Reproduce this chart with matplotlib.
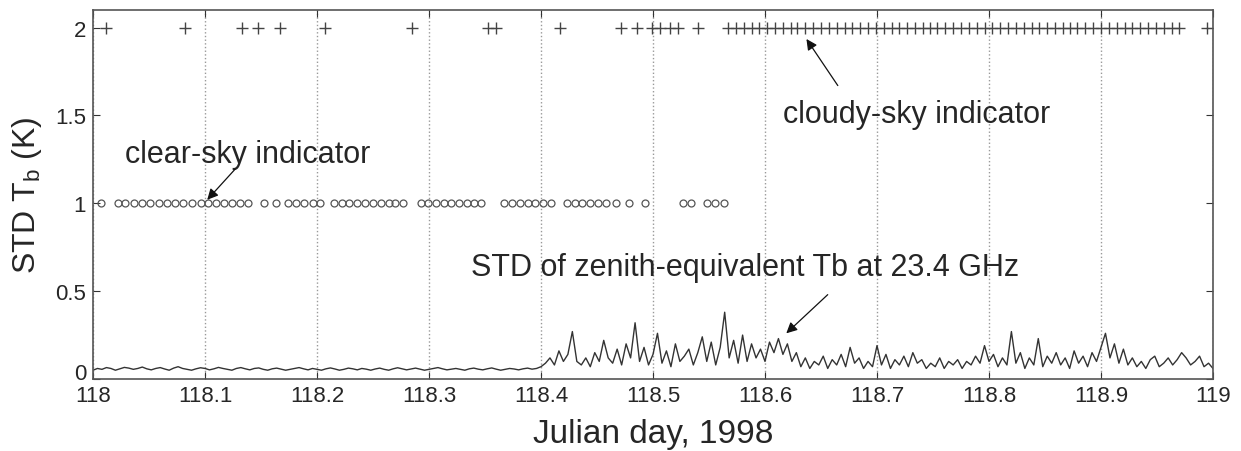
import numpy as np
import matplotlib
matplotlib.use("Agg")
import matplotlib.pyplot as plt
import matplotlib.transforms as mtransforms

# ---------------- data ----------------
# clear-sky indicator times (Julian day, 1998), plotted at level 1
clear_days = [118.007,
              118.022, 118.029, 118.037, 118.044, 118.051, 118.059, 118.066, 118.073, 118.080,
              118.088, 118.096, 118.103, 118.110, 118.117, 118.124, 118.131,
              118.138, 118.153, 118.163,
              118.174, 118.181, 118.188, 118.196, 118.203,
              118.215, 118.222, 118.229, 118.236, 118.243, 118.250, 118.257, 118.264, 118.270, 118.277,
              118.293, 118.299, 118.306, 118.313, 118.320, 118.327, 118.334, 118.340, 118.346,
              118.367, 118.374, 118.381, 118.388, 118.395, 118.402, 118.409,
              118.423, 118.430, 118.437, 118.444, 118.451, 118.458, 118.467,
              118.479, 118.493, 118.527, 118.534, 118.548, 118.555, 118.563]
clear_level = 1.0

# cloudy-sky indicator times, plotted at level 2
cloudy_days = [118.012, 118.082, 118.133, 118.147, 118.167, 118.207, 118.285,
               118.353, 118.360, 118.417, 118.471, 118.486, 118.499, 118.506,
               118.515, 118.522, 118.540,
               118.567, 118.574, 118.581, 118.588, 118.595, 118.602, 118.609, 118.616,
               118.623, 118.629, 118.636, 118.643, 118.650, 118.657, 118.664, 118.671,
               118.678, 118.685, 118.692, 118.699, 118.706, 118.713, 118.720, 118.727,
               118.734, 118.741, 118.747, 118.754, 118.761, 118.768, 118.775, 118.782,
               118.789, 118.796, 118.803, 118.810, 118.817, 118.824, 118.831, 118.838,
               118.845, 118.852, 118.859, 118.866, 118.872, 118.879, 118.886, 118.893,
               118.900, 118.907, 118.914, 118.921, 118.928, 118.935, 118.942, 118.949,
               118.956, 118.963, 118.970, 118.995]
cloudy_level = 2.0

# STD of zenith-equivalent Tb at 23.4 GHz (K), sampled every 0.004 day from 118 to 119
std_days = np.linspace(118.0, 119.0, 251)
std_tb = [
    0.05, 0.06, 0.055, 0.065, 0.06, 0.05, 0.058, 0.066, 0.062, 0.055,
    0.06, 0.068, 0.058, 0.052, 0.06, 0.065, 0.057, 0.05, 0.062, 0.07,
    0.06, 0.055, 0.05, 0.058, 0.064, 0.06, 0.052, 0.058, 0.066, 0.06,
    0.055, 0.05, 0.06, 0.065, 0.058, 0.052, 0.06, 0.063, 0.055, 0.05,
    0.058, 0.062, 0.056, 0.05, 0.055, 0.06, 0.065, 0.058, 0.052, 0.06,
    0.055, 0.05, 0.058, 0.063, 0.057, 0.05, 0.055, 0.062, 0.058, 0.052,
    0.06, 0.056, 0.05, 0.057, 0.062, 0.055, 0.05, 0.058, 0.064, 0.058,
    0.052, 0.057, 0.062, 0.056, 0.05, 0.055, 0.06, 0.065, 0.058, 0.052,
    0.056, 0.06, 0.055, 0.05, 0.058, 0.062, 0.056, 0.052, 0.058, 0.063,
    0.056, 0.05, 0.055, 0.06, 0.057, 0.052, 0.058, 0.062, 0.056, 0.06,
    0.07,
    0.09, 0.12, 0.08, 0.16, 0.10, 0.14, 0.27, 0.10, 0.08, 0.12,
    0.07, 0.15, 0.10, 0.22, 0.12, 0.09, 0.17, 0.08, 0.20, 0.12,
    0.32, 0.10, 0.18, 0.08, 0.14, 0.26, 0.09, 0.16, 0.07, 0.20,
    0.10, 0.13, 0.17, 0.08, 0.15, 0.24, 0.10, 0.21, 0.08, 0.18,
    0.38, 0.12, 0.22, 0.09, 0.25, 0.10, 0.20, 0.12, 0.17, 0.10,
    0.21, 0.15, 0.23, 0.14, 0.20, 0.10, 0.15, 0.07, 0.12, 0.06,
    0.10, 0.08, 0.13, 0.06, 0.11, 0.08, 0.14, 0.07, 0.18, 0.09,
    0.12, 0.06, 0.10, 0.07, 0.19, 0.08, 0.14, 0.06, 0.11, 0.08,
    0.13, 0.07, 0.15, 0.09, 0.11, 0.06, 0.09, 0.07, 0.12, 0.06,
    0.10, 0.08, 0.11, 0.06, 0.10, 0.08, 0.13, 0.09, 0.19, 0.10,
    0.14, 0.07, 0.12, 0.08, 0.27, 0.09, 0.15, 0.06, 0.12, 0.08,
    0.23, 0.07, 0.13, 0.09, 0.15, 0.08, 0.12, 0.06, 0.16, 0.09,
    0.13, 0.07, 0.15, 0.10, 0.18, 0.26, 0.12, 0.20, 0.09, 0.17,
    0.08, 0.12, 0.07, 0.10, 0.06, 0.11, 0.13, 0.07, 0.09, 0.12,
    0.08, 0.11, 0.15, 0.12, 0.08, 0.10, 0.13, 0.07, 0.09, 0.06,
]

x_ticks = [118, 118.1, 118.2, 118.3, 118.4, 118.5, 118.6, 118.7, 118.8, 118.9, 119]
x_ticklabels = ["118", "118.1", "118.2", "118.3", "118.4", "118.5", "118.6",
                "118.7", "118.8", "118.9", "119"]
y_ticks = [0, 0.5, 1, 1.5, 2]
y_ticklabels = ["0", "0.5", "1", "1.5", "2"]

# ---------------- style ----------------
plt.rcParams["font.family"] = ["Liberation Sans", "DejaVu Sans"]
plt.rcParams["mathtext.fontset"] = "custom"
plt.rcParams["mathtext.rm"] = "Liberation Sans"
plt.rcParams["mathtext.it"] = "Liberation Sans"
txt = "#262626"
ink = "#333333"

fig = plt.figure(figsize=(12.41, 4.52), dpi=100)
ax = fig.add_axes([93 / 1241, 1 - 380 / 452, (1213 - 93) / 1241, (380 - 11) / 452])

ax.plot(std_days, std_tb, color=ink, lw=1.0)
ax.plot(clear_days, [clear_level] * len(clear_days), linestyle="none", marker="o",
        markersize=5, markerfacecolor="none", markeredgecolor="#555555", markeredgewidth=0.9)
ax.plot(cloudy_days, [cloudy_level] * len(cloudy_days), linestyle="none", marker="+",
        markersize=8, markeredgecolor="#444444", markeredgewidth=1.0)

ax.set_xlim(118, 119)
ax.set_ylim(0, 2.1)
ax.set_xticks(x_ticks)
ax.set_xticklabels(x_ticklabels)
ax.set_yticks(y_ticks)
ax.set_yticklabels(y_ticklabels)
ax.grid(axis="x", linestyle=":", color="#999999", lw=1.0)
ax.tick_params(direction="in", top=True, right=True, length=5, width=0.8,
               labelsize=16, colors=ink, labelcolor=txt)
ax.tick_params(axis="x", pad=4)
ax.tick_params(axis="y", pad=5)
for s in ax.spines.values():
    s.set_color("#555555")
    s.set_linewidth(1.2)

# lift the "0" label a little so it clears the "118" label below it
zero_lbl = ax.get_yticklabels()[0]
zero_lbl.set_transform(zero_lbl.get_transform() +
                       mtransforms.ScaledTranslation(0, 6 / 72, fig.dpi_scale_trans))

ax.set_xlabel("Julian day, 1998", fontsize=24, color=txt, labelpad=9)
ax.set_ylabel(r"STD T$_\mathrm{b}$ (K)", fontsize=23, color=txt, labelpad=8)

arrow = dict(arrowstyle="-|>", color="#111111", lw=0.9, mutation_scale=16,
             shrinkA=0, shrinkB=0)
ax.text(118.0286, 1.28, "clear-sky indicator", fontsize=22, color=txt, va="center")
ax.annotate("", xy=(118.102, 1.02), xytext=(118.127, 1.195), arrowprops=arrow)

ax.text(118.616, 1.51, "cloudy-sky indicator", fontsize=22, color=txt, va="center")
ax.annotate("", xy=(118.637, 1.935), xytext=(118.665, 1.67), arrowprops=arrow)

ax.text(118.3375, 0.64, "STD of zenith-equivalent Tb at 23.4 GHz", fontsize=22,
        color=txt, va="center")
ax.annotate("", xy=(118.619, 0.26), xytext=(118.656, 0.48), arrowprops=arrow)

fig.savefig("out.png", dpi=100)
